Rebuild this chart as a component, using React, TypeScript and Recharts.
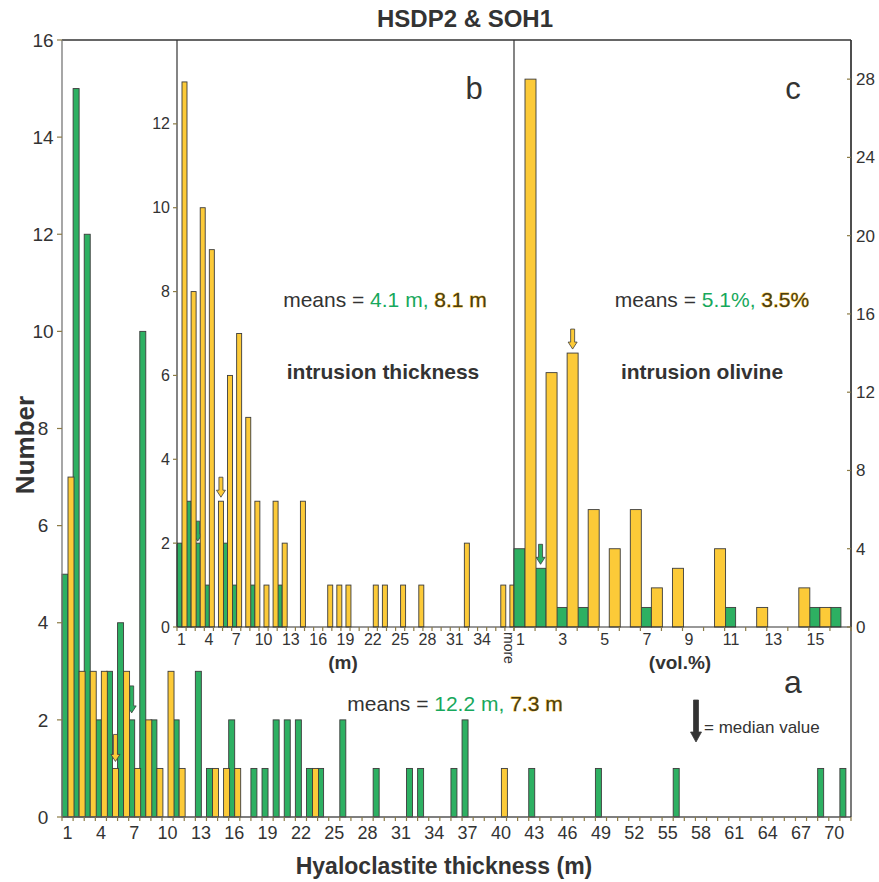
import React from "react";
import { BarChart, Bar, XAxis, YAxis, ReferenceLine } from "recharts";

const GREEN = "#2db062";
const YELLOW = "#fcca38";
const EDGE = "#3c3c3c";
const TICK = "#8c7b45";
const INK = "#333333";
const AXIS = "#555555";
const FONT = "'Liberation Sans', Arial, Helvetica, sans-serif";

// a: hyaloclastite thickness, 1 m bins
const hyaloBins = [
  1, 2, 3, 4, 5, 6, 7, 8, 9, 10, 11, 12, 13, 14, 15, 16, 17, 18, 19, 20, 21, 22, 23, 24,
  25, 26, 27, 28, 29, 30, 31, 32, 33, 34, 35, 36, 37, 38, 39, 40, 41, 42, 43, 44, 45, 46,
  47, 48, 49, 50, 51, 52, 53, 54, 55, 56, 57, 58, 59, 60, 61, 62, 63, 64, 65, 66, 67, 68,
  69, 70, 71,
];
const hyaloHSDP2 = [
  5, 15, 12, 2, 3, 4, 2, 10, 2, 0, 2, 0, 3, 1, 0, 2, 0, 1, 1, 2, 2, 2, 1, 1,
  0, 2, 0, 0, 1, 0, 0, 1, 1, 0, 0, 1, 2, 0, 0, 0, 0, 0, 1, 0, 0, 0,
  0, 0, 1, 0, 0, 0, 0, 0, 0, 1, 0, 0, 0, 0, 0, 0, 0, 0, 0, 0, 0, 0,
  1, 0, 1,
];
const hyaloSOH1 = [
  7, 3, 3, 3, 1, 3, 1, 2, 1, 3, 1, 0, 0, 1, 1, 1, 0, 0, 0, 0, 0, 0, 1, 0,
  0, 0, 0, 0, 0, 0, 0, 0, 0, 0, 0, 0, 0, 0, 0, 1, 0, 0, 0, 0, 0, 0,
  0, 0, 0, 0, 0, 0, 0, 0, 0, 0, 0, 0, 0, 0, 0, 0, 0, 0, 0, 0, 0, 0,
  0, 0, 0,
];

// b: intrusion thickness (m)
const intrBins = [
  "1", "2", "3", "4", "5", "6", "7", "8", "9", "10", "11", "12", "13", "14", "15", "16",
  "17", "18", "19", "20", "21", "22", "23", "24", "25", "26", "27", "28", "29", "30",
  "31", "32", "33", "34", "35", "36", "more",
];
const intrHSDP2 = [
  2, 3, 2, 1, 0, 2, 1, 0, 1, 0, 0, 1, 0, 0, 0, 0,
  0, 0, 0, 0, 0, 0, 0, 0, 0, 0, 0, 0, 0, 0,
  0, 0, 0, 0, 0, 0, 0,
];
const intrSOH1 = [
  13, 8, 10, 9, 3, 6, 7, 5, 3, 1, 3, 2, 0, 3, 0, 0,
  1, 1, 1, 0, 0, 1, 1, 0, 1, 0, 1, 0, 0, 0,
  0, 2, 0, 0, 0, 1, 1,
];

// c: intrusion olivine (vol.%)
const olivBins = [1, 2, 3, 4, 5, 6, 7, 8, 9, 10, 11, 12, 13, 14, 15, 16];
const olivHSDP2 = [4, 3, 1, 1, 0, 0, 1, 0, 0, 0, 1, 0, 0, 0, 1, 1];
const olivSOH1 = [28, 13, 14, 6, 4, 6, 2, 3, 0, 4, 0, 1, 0, 2, 1, 0];

// median bins (arrows)
const hyaloMedian = { g: 7, y: 5 };
const intrMedian = { g: "3", y: "5" };
const olivMedian = { g: 2, y: 3 };

const hyaloData = hyaloBins.map((c, i) => ({ cat: c, g: hyaloHSDP2[i], y: hyaloSOH1[i] }));
const intrData = intrBins.map((c, i) => ({ cat: c, g: intrHSDP2[i], y: intrSOH1[i] }));
const olivData = olivBins.map((c, i) => ({ cat: c, g: olivHSDP2[i], y: olivSOH1[i] }));

function Arrow({ cx, tip, len, color, shaft = 4, head = 9, headH = 7 }: any) {
  const top = tip - len;
  const pts = [
    [cx - shaft / 2, top],
    [cx + shaft / 2, top],
    [cx + shaft / 2, tip - headH],
    [cx + head / 2, tip - headH],
    [cx, tip],
    [cx - head / 2, tip - headH],
    [cx - shaft / 2, tip - headH],
  ];
  return (
    <polygon
      points={pts.map((p) => p.join(",")).join(" ")}
      fill={color}
      stroke={EDGE}
      strokeWidth={0.8}
    />
  );
}

function barShape(color: string, median: any, gap: number, len: number) {
  return (props: any) => {
    const { x, y, width, height, payload } = props;
    if (!height || height <= 0) return <g />;
    return (
      <g>
        <rect x={x} y={y} width={width} height={height} fill={color} stroke={EDGE} strokeWidth={0.9} />
        {payload && payload.cat === median && (
          <Arrow cx={x + width / 2} tip={y - gap} len={len} color={color} />
        )}
      </g>
    );
  };
}

function xTick(band: number, n: number, every: number, fontSize: number, dy: number, shift = 0) {
  return (props: any) => {
    const { x, y, payload, index } = props;
    const left = x - band / 2;
    const v = payload.value;
    let label = null;
    if (index % every === 0) {
      label =
        v === "more" ? (
          <text
            x={x - 5}
            y={y + 5}
            transform={`rotate(90 ${x - 5} ${y + 5})`}
            fontSize={fontSize - 2}
            fill={INK}
            fontFamily={FONT}
            textAnchor="start"
          >
            {v}
          </text>
        ) : (
          <text x={x + shift} y={y + dy} textAnchor="middle" fontSize={fontSize} fill={INK} fontFamily={FONT}>
            {v}
          </text>
        );
    }
    return (
      <g>
        <line x1={left} x2={left} y1={y} y2={y + 4} stroke={TICK} strokeWidth={1.2} />
        {index === n - 1 && (
          <line x1={x + band / 2} x2={x + band / 2} y1={y} y2={y + 4} stroke={TICK} strokeWidth={1.2} />
        )}
        {label}
      </g>
    );
  };
}

function yTick(dir: number, tickLen: number, label: boolean, fontSize: number, dx: number, anchor: string) {
  return (props: any) => {
    const { x, y, payload } = props;
    return (
      <g>
        <line x1={x} x2={x + dir * tickLen} y1={y} y2={y} stroke={TICK} strokeWidth={1.2} />
        {label && (
          <text x={x + dx} y={y + fontSize * 0.35} textAnchor={anchor} fontSize={fontSize} fill={INK} fontFamily={FONT}>
            {payload.value}
          </text>
        )}
      </g>
    );
  };
}

function MeansText({ x, y, green, yellow, size }: any) {
  return (
    <text x={x} y={y} textAnchor="middle" fontSize={size} fontFamily={FONT} fill={INK}>
      means = <tspan fill="#17a85c">{green}</tspan>{" "}
      <tspan fill="#4a3d12" stroke="#f2c23a" strokeWidth={0.9} paintOrder="stroke">
        {yellow}
      </tspan>
    </text>
  );
}

export default function App() {
  const mainBand = (851 - 62) / hyaloBins.length;
  const bBand = (514 - 177) / intrBins.length;
  const cBand = (851 - 514) / olivBins.length;

  return (
    <div style={{ position: "absolute", left: 0, top: 0, width: 879, height: 882, background: "#fff" }}>
      {/* a: main histogram */}
      <div style={{ position: "absolute", left: 0, top: 0 }}>
        <BarChart
          width={879}
          height={882}
          data={hyaloData}
          margin={{ top: 40, right: 8, bottom: 35, left: 12 }}
          barCategoryGap={0}
          barGap={0}
        >
          <XAxis
            dataKey="cat"
            interval={0}
            height={30}
            tickSize={0}
            tickMargin={0}
            axisLine={{ stroke: AXIS, strokeWidth: 1.3 }}
            tick={xTick(mainBand, hyaloBins.length, 3, 18, 22)}
          />
          <YAxis
            yAxisId="l"
            width={50}
            domain={[0, 16]}
            ticks={[0, 2, 4, 6, 8, 10, 12, 14, 16]}
            tickSize={0}
            tickMargin={0}
            axisLine={{ stroke: "#777", strokeWidth: 1.3 }}
            tick={yTick(-1, 5, true, 19, -19, "middle")}
          />
          <YAxis
            yAxisId="r"
            orientation="right"
            width={20}
            domain={[0, 16]}
            ticks={[0, 2]}
            tickSize={0}
            tickMargin={0}
            axisLine={{ stroke: INK, strokeWidth: 1.3 }}
            tick={yTick(-1, 4, false, 12, 0, "start")}
          />
          <ReferenceLine yAxisId="l" y={16} stroke={INK} strokeWidth={1.3} />
          <Bar yAxisId="l" dataKey="g" isAnimationActive={false} shape={barShape(GREEN, hyaloMedian.g, 7, 27)} />
          <Bar yAxisId="l" dataKey="y" isAnimationActive={false} shape={barShape(YELLOW, hyaloMedian.y, 7, 27)} />
        </BarChart>
      </div>

      {/* b: intrusion thickness */}
      <div style={{ position: "absolute", left: 127, top: 30 }}>
        <BarChart
          width={392}
          height={647}
          data={intrData}
          margin={{ top: 10, right: 0, bottom: 0, left: 10 }}
          barCategoryGap={0}
          barGap={0}
        >
          <XAxis
            dataKey="cat"
            interval={0}
            height={50}
            tickSize={0}
            tickMargin={0}
            axisLine={{ stroke: INK, strokeWidth: 1.2 }}
            tick={xTick(bBand, intrBins.length, 3, 16, 18)}
          />
          <YAxis
            yAxisId="l"
            width={40}
            domain={[0, 14]}
            ticks={[0, 2, 4, 6, 8, 10, 12]}
            tickSize={0}
            tickMargin={0}
            axisLine={{ stroke: INK, strokeWidth: 1.2 }}
            tick={yTick(-1, 4, true, 16, -7, "end")}
          />
          <YAxis
            yAxisId="r"
            orientation="right"
            width={5}
            domain={[0, 14]}
            ticks={[0, 2, 4, 6, 8, 10, 12]}
            tickSize={0}
            tickMargin={0}
            axisLine={{ stroke: INK, strokeWidth: 1.2 }}
            tick={yTick(-1, 4, false, 12, 0, "start")}
          />
          <Bar yAxisId="l" dataKey="g" isAnimationActive={false} shape={barShape(GREEN, intrMedian.g, 2, 20)} />
          <Bar yAxisId="l" dataKey="y" isAnimationActive={false} shape={barShape(YELLOW, intrMedian.y, 4, 20)} />
        </BarChart>
      </div>

      {/* c: intrusion olivine */}
      <div style={{ position: "absolute", left: 504, top: 30 }}>
        <BarChart
          width={380}
          height={647}
          data={olivData}
          margin={{ top: 10, right: 0, bottom: 0, left: 5 }}
          barCategoryGap={0}
          barGap={0}
        >
          <XAxis
            dataKey="cat"
            interval={0}
            height={50}
            tickSize={0}
            tickMargin={0}
            axisLine={{ stroke: INK, strokeWidth: 1.2 }}
            tick={xTick(cBand, olivBins.length, 2, 16, 18, -4)}
          />
          <YAxis
            yAxisId="l"
            width={5}
            domain={[0, 30]}
            ticks={[0, 4, 8, 12, 16, 20, 24, 28]}
            tickSize={0}
            tickMargin={0}
            axisLine={false}
            tick={yTick(-1, 4, false, 12, 0, "end")}
          />
          <YAxis
            yAxisId="r"
            orientation="right"
            width={33}
            domain={[0, 30]}
            ticks={[0, 4, 8, 12, 16, 20, 24, 28]}
            tickSize={0}
            tickMargin={0}
            axisLine={{ stroke: INK, strokeWidth: 1.2 }}
            tick={yTick(-1, 4, true, 17, 5, "start")}
          />
          <Bar yAxisId="r" dataKey="g" isAnimationActive={false} shape={barShape(GREEN, olivMedian.g, 4, 20)} />
          <Bar yAxisId="r" dataKey="y" isAnimationActive={false} shape={barShape(YELLOW, olivMedian.y, 4, 20)} />
        </BarChart>
      </div>

      {/* titles and annotations */}
      <svg
        width={879}
        height={882}
        style={{ position: "absolute", left: 0, top: 0, pointerEvents: "none" }}
        fontFamily={FONT}
      >
        <text x={465} y={27} textAnchor="middle" fontSize={24} fontWeight="bold" fill={INK}>
          HSDP2 &amp; SOH1
        </text>
        <text
          x={34}
          y={445}
          transform="rotate(-90 34 445)"
          textAnchor="middle"
          fontSize={26}
          fontWeight="bold"
          fill={INK}
        >
          Number
        </text>
        <text x={444} y={874} textAnchor="middle" fontSize={23} fontWeight="bold" fill={INK}>
          Hyaloclastite thickness (m)
        </text>

        <text x={474} y={99} textAnchor="middle" fontSize={31} fill={INK}>b</text>
        <text x={793} y={99} textAnchor="middle" fontSize={31} fill={INK}>c</text>
        <text x={793} y={693} textAnchor="middle" fontSize={32} fill={INK}>a</text>

        <MeansText x={385} y={307} green="4.1 m," yellow="8.1 m" size={21} />
        <text x={383} y={379} textAnchor="middle" fontSize={21} fontWeight="bold" fill={INK}>
          intrusion thickness
        </text>
        <MeansText x={712} y={307} green="5.1%," yellow="3.5%" size={21} />
        <text x={702} y={379} textAnchor="middle" fontSize={21} fontWeight="bold" fill={INK}>
          intrusion olivine
        </text>
        <MeansText x={455} y={711} green="12.2 m," yellow="7.3 m" size={21} />

        <text x={343} y={669} textAnchor="middle" fontSize={19} fontWeight="bold" fill={INK}>(m)</text>
        <text x={680} y={669} textAnchor="middle" fontSize={19} fontWeight="bold" fill={INK}>(vol.%)</text>

        <Arrow cx={696} tip={742} len={42} color="#333" shaft={5} head={11} headH={10} />
        <text x={704} y={733} fontSize={17} fill={INK}>= median value</text>
      </svg>
    </div>
  );
}
